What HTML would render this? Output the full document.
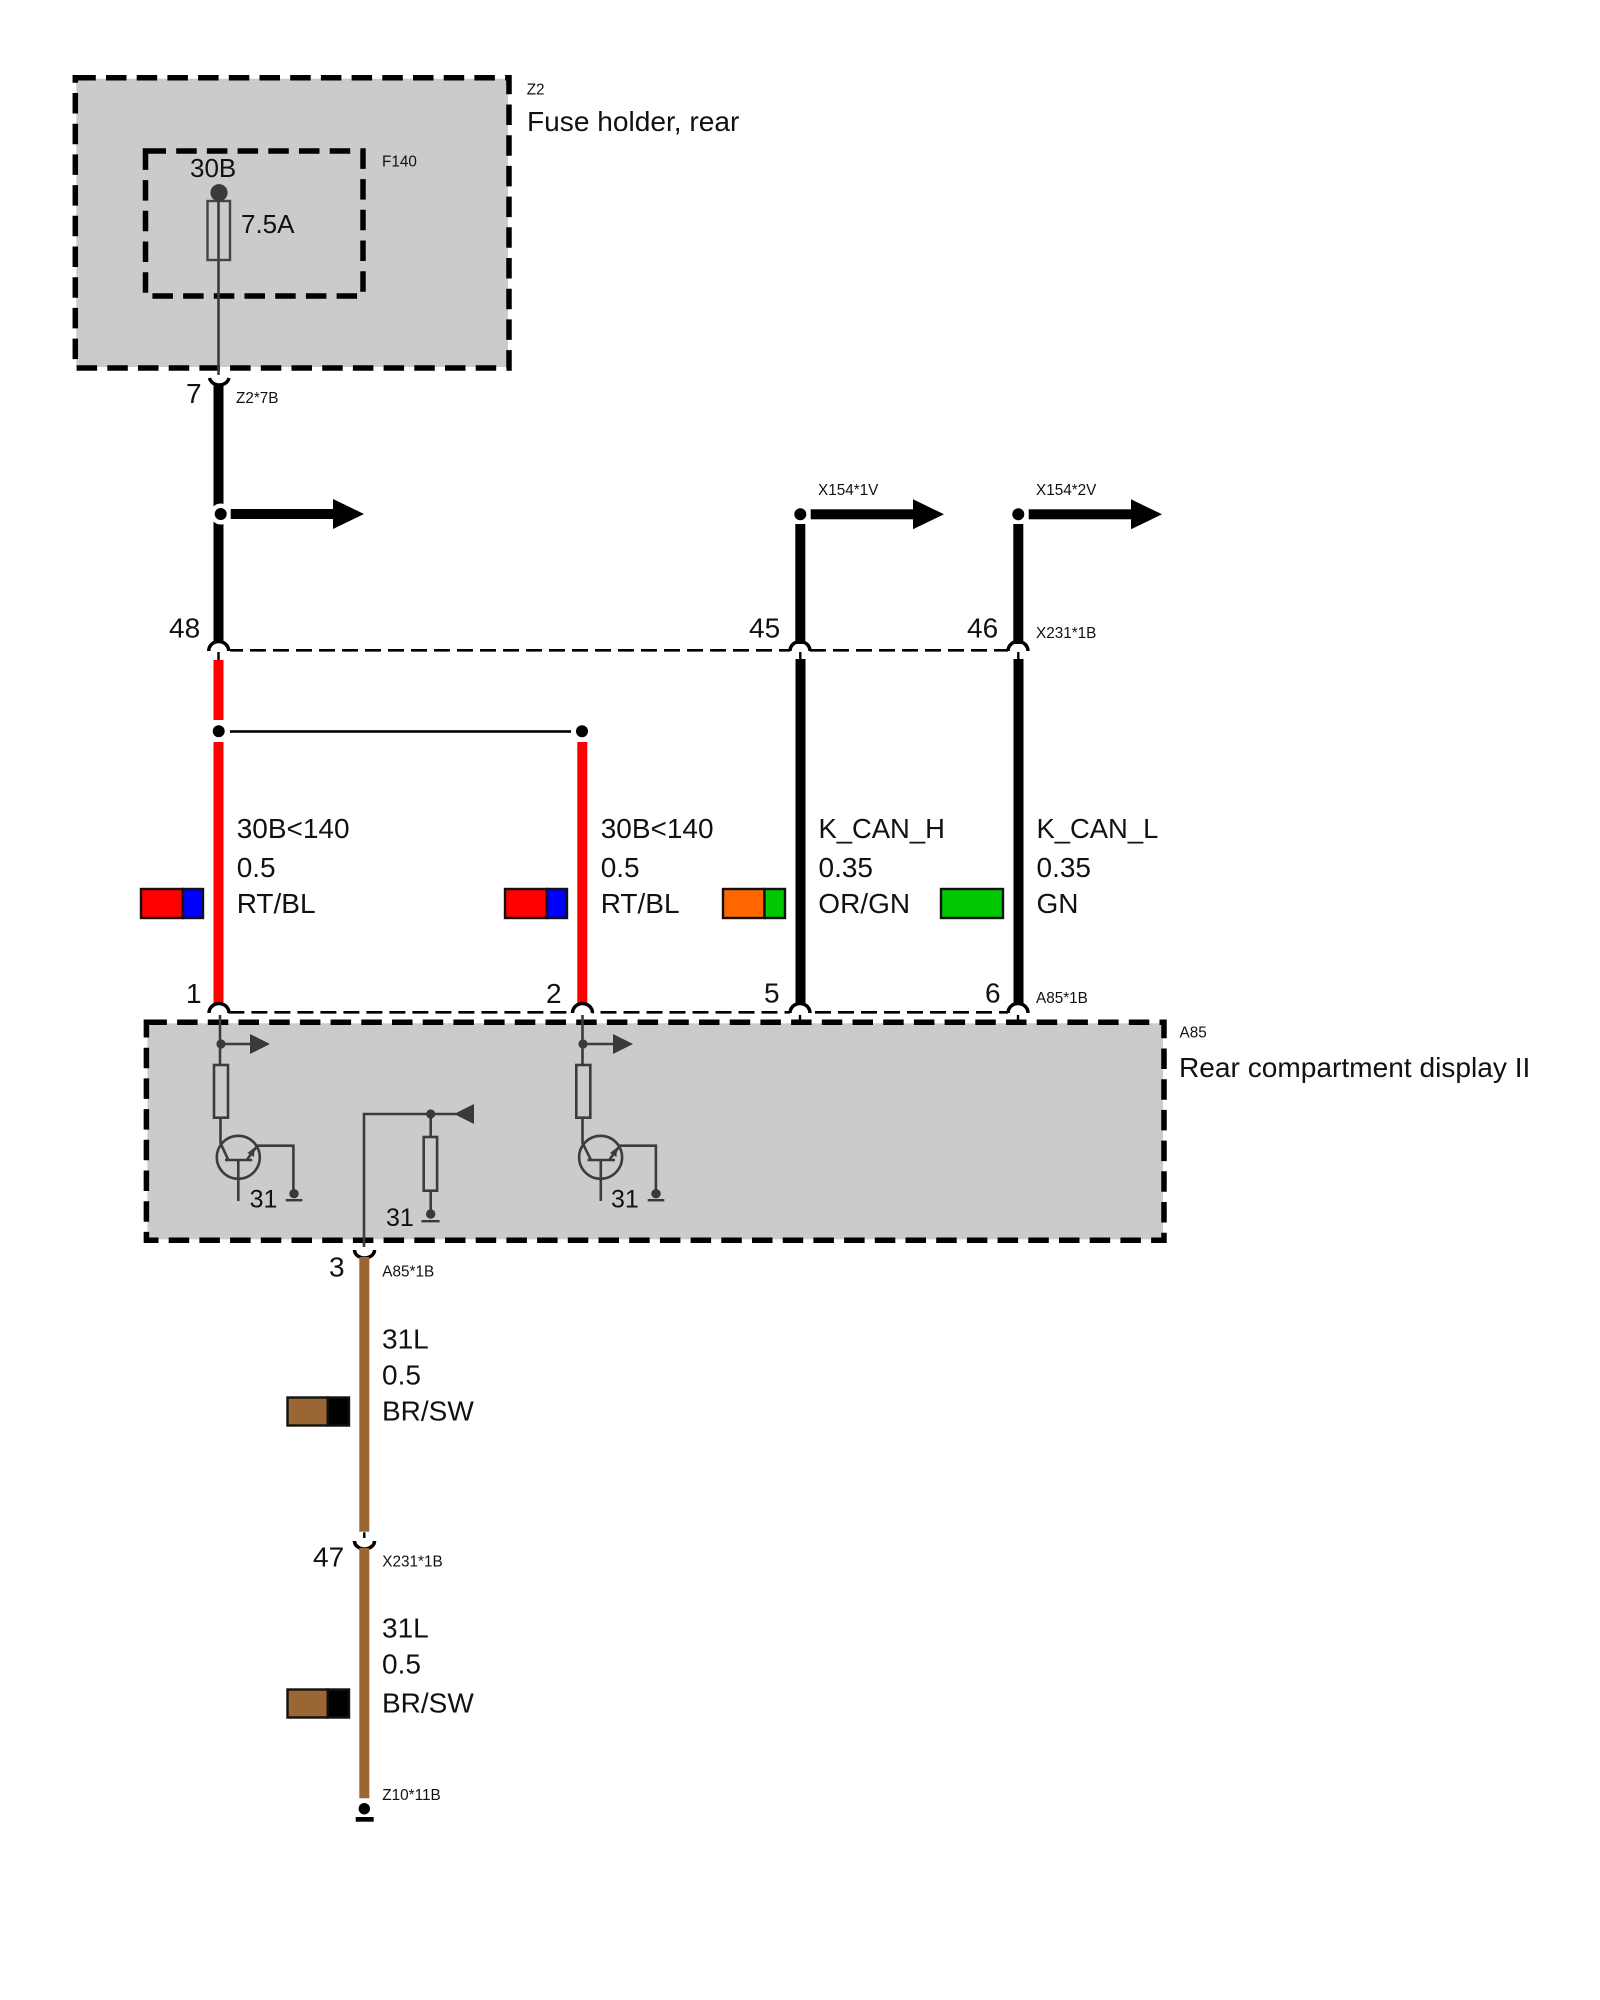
<!DOCTYPE html>
<html><head><meta charset="utf-8"><style>
html,body{margin:0;padding:0;background:#fff}
svg{display:block}
text{font-family:"Liberation Sans",sans-serif;fill:#111;font-size:28px}
.s{font-size:15.3px}
.n{font-size:28px}
.m{font-size:25px}
.h{font-size:26px}
.k{font-size:27.4px}
.l{font-size:28.1px}
.c{fill:none;stroke:#3c3c3c;stroke-width:2.6}
.d{fill:#3a3a3a}
.a{fill:none;stroke:#000;stroke-width:3.5}
.t{stroke:#000;stroke-width:2.4;fill:none}
.dash{stroke:#000;stroke-width:2.6;stroke-dasharray:16 7;fill:none}
.bf{fill:#cbcbcb}
.box{fill:none;stroke:#000;stroke-width:5.5;stroke-dasharray:20.5 10.2}
.sw{stroke:#111;stroke-width:2.4}
</style></head><body>
<svg width="1600" height="2000" viewBox="0 0 1600 2000" xmlns="http://www.w3.org/2000/svg">
<rect width="1600" height="2000" fill="#fff"/>

<!-- Z2 -->
<rect class="bf" x="76.3" y="78.7" width="431.7" height="288.3"/>
<rect class="box" x="75.3" y="77.7" width="433.7" height="290.3"/>
<rect x="145.5" y="151" width="217.5" height="145" fill="none" stroke="#000" stroke-width="5.5" stroke-dasharray="20.5 10.2"/>
<path class="c" d="M218.5 192V375"/>
<rect x="207.5" y="201" width="22.5" height="59" fill="none" stroke="#444" stroke-width="2.4"/>
<circle class="d" cx="219" cy="192.7" r="8.6"/>
<text class="h" x="190" y="177">30B</text>
<text class="h" x="241" y="233">7.5A</text>
<text class="s" x="382" y="166.7">F140</text>
<text class="s" x="526.7" y="94.3">Z2</text>
<text class="l" x="527" y="131">Fuse holder, rear</text>

<!-- connector 7 and upper black wire -->
<path class="a" d="M209.5 378A10 9 0 0 0 229 378"/>
<rect x="213.5" y="385" width="10" height="258" fill="#000"/>
<text x="186" y="403">7</text>
<text class="s" x="236" y="403">Z2*7B</text>
<circle cx="220.7" cy="514" r="10.5" fill="#fff"/>
<circle cx="220.7" cy="514" r="6" fill="#000"/>
<rect x="230.7" y="509" width="103" height="10" fill="#000"/>
<path d="M333 499L364 514L333 529Z" fill="#000"/>

<!-- wire 45 / 46 top -->
<circle cx="800.3" cy="514.3" r="6" fill="#000"/>
<rect x="795.3" y="524" width="10" height="120" fill="#000"/>
<rect x="810.7" y="509.3" width="103" height="10" fill="#000"/>
<path d="M913 499.3L944 514.3L913 529.3Z" fill="#000"/>
<circle cx="1018.3" cy="514.3" r="6" fill="#000"/>
<rect x="1013.3" y="524" width="10" height="120" fill="#000"/>
<rect x="1028.7" y="509.3" width="103" height="10" fill="#000"/>
<path d="M1131 499.3L1162 514.3L1131 529.3Z" fill="#000"/>
<text class="s" x="818" y="495">X154*1V</text>
<text class="s" x="1036" y="495">X154*2V</text>

<!-- upper dashed X231 -->
<path class="dash" d="M230 650.3H790" stroke-dashoffset="3"/>
<path class="dash" d="M810 650.3H1008"/>
<path class="a" d="M208.7 651A10 9.5 0 0 1 228.7 651"/>
<path class="a" d="M790 651A10 9.5 0 0 1 810 651"/>
<path class="a" d="M1008 651A10 9.5 0 0 1 1028 651"/>
<path class="t" d="M218.5 652V660M800.3 652V660M1018.3 652V660"/>
<text class="n" x="169" y="637.5">48</text>
<text class="n" x="749" y="637.5">45</text>
<text class="n" x="967" y="637.5">46</text>
<text class="s" x="1036" y="638">X231*1B</text>

<!-- red wires -->
<rect x="213.5" y="660" width="10" height="60" fill="#f00"/>
<rect x="213.5" y="742" width="10" height="261" fill="#f00"/>
<circle cx="218.7" cy="731.3" r="6" fill="#000"/>
<rect x="230" y="730.2" width="341" height="2.6" fill="#000"/>
<circle cx="582" cy="731.3" r="6" fill="#000"/>
<rect x="577.3" y="742" width="10" height="261" fill="#f00"/>

<!-- black lower wires -->
<rect x="795.5" y="659" width="10" height="344" fill="#000"/>
<rect x="1013.5" y="659" width="10" height="344" fill="#000"/>

<!-- wire labels -->
<text x="236.7" y="838">30B&lt;140</text>
<text x="236.7" y="877">0.5</text>
<text x="236.7" y="913">RT/BL</text>
<text x="600.7" y="838">30B&lt;140</text>
<text x="600.7" y="877">0.5</text>
<text x="600.7" y="913">RT/BL</text>
<text class="k" x="818.5" y="838">K_CAN_H</text>
<text x="818.5" y="877">0.35</text>
<text x="818.3" y="913">OR/GN</text>
<text class="k" x="1036.5" y="838">K_CAN_L</text>
<text x="1036.5" y="877">0.35</text>
<text x="1036.5" y="913">GN</text>

<!-- swatches -->
<rect x="141" y="889" width="42" height="29" fill="#f00" class="sw"/>
<rect x="183" y="889" width="20" height="29" fill="#00f" class="sw"/>
<rect x="505" y="889" width="42" height="29" fill="#f00" class="sw"/>
<rect x="547" y="889" width="20" height="29" fill="#00f" class="sw"/>
<rect x="723" y="889" width="41.5" height="29" fill="#f60" class="sw"/>
<rect x="764.5" y="889" width="20.5" height="29" fill="#00c800" class="sw"/>
<rect x="941" y="889" width="62" height="29" fill="#00c800" class="sw"/>

<!-- lower dashed A85 -->
<path class="dash" d="M228.4 1012.3H572"/>
<path class="dash" d="M592.5 1012.3H790" stroke-dashoffset="-8"/>
<path class="dash" d="M810 1012.3H1008" stroke-dashoffset="-5"/>
<path class="a" d="M209 1013A10 9.5 0 0 1 229 1013"/>
<path class="a" d="M572.5 1013A10 9.5 0 0 1 592.5 1013"/>
<path class="a" d="M790 1013A10 9.5 0 0 1 810 1013"/>
<path class="a" d="M1008 1013A10 9.5 0 0 1 1028 1013"/>
<text x="186" y="1003">1</text>
<text x="546" y="1003">2</text>
<text x="764" y="1002.5">5</text>
<text x="985" y="1002.5">6</text>
<text class="s" x="1036" y="1003">A85*1B</text>

<!-- A85 -->
<rect class="bf" x="147.4" y="1023.3" width="1015.6" height="216"/>
<rect class="box" x="146.4" y="1022.3" width="1017.6" height="218"/>
<path class="t" d="M800 1015V1022M1018 1015V1022"/>
<text class="s" x="1179.5" y="1037.7">A85</text>
<text class="l" x="1179" y="1077">Rear compartment display II</text>

<!-- left transistor stage -->
<g>
<path class="c" d="M220 1015V1065M220.5 1118V1143L228.3 1160M225 1160H252.3M238.3 1160V1201M246.7 1160L257.3 1145.7H293.4V1193M221 1044H252"/>
<rect x="214" y="1065" width="14" height="52.7" fill="none" stroke="#3c3c3c" stroke-width="2.6"/>
<circle cx="238.3" cy="1157.3" r="21.5" fill="none" stroke="#3c3c3c" stroke-width="2.6"/>
<path class="d" d="M254.5 1147.5L247.5 1153L254 1157Z"/>
<circle class="d" cx="221" cy="1044" r="4.6"/>
<path class="d" d="M250 1034L270 1044L250 1054Z"/>
<circle class="d" cx="294" cy="1193.7" r="4.7"/>
<rect class="d" x="285.7" y="1199" width="16.6" height="2.4"/>
<text class="m" x="249.6" y="1207.7">31</text>
</g>
<!-- right transistor stage -->
<g>
<path class="c" d="M582.5 1015V1065M582.5 1118V1143L591 1160M587.5 1160H615M600.8 1160V1201M609.2 1160L619.8 1145.7H655.9V1193M583 1044H614"/>
<rect x="576.3" y="1065" width="14" height="52.7" fill="none" stroke="#3c3c3c" stroke-width="2.6"/>
<circle cx="600.6" cy="1157.3" r="21.5" fill="none" stroke="#3c3c3c" stroke-width="2.6"/>
<path class="d" d="M617 1147.5L610 1153L616.5 1157Z"/>
<circle class="d" cx="583" cy="1044" r="4.6"/>
<path class="d" d="M613 1034L633 1044L613 1054Z"/>
<circle class="d" cx="656" cy="1193.7" r="4.7"/>
<rect class="d" x="647.7" y="1199" width="16.6" height="2.4"/>
<text class="m" x="611" y="1207.7">31</text>
</g>
<!-- centre stage -->
<path class="c" d="M364 1247V1114H456M430.7 1114V1137M430.7 1190.7V1214"/>
<rect x="423.7" y="1137" width="13.4" height="53.7" fill="none" stroke="#3c3c3c" stroke-width="2.6"/>
<circle class="d" cx="430.7" cy="1114" r="4.6"/>
<path class="d" d="M454 1114L474 1104V1124Z"/>
<circle class="d" cx="430.7" cy="1214" r="4.7"/>
<rect class="d" x="421.4" y="1220" width="18.2" height="2.4"/>
<text class="m" x="386" y="1226">31</text>

<!-- brown wire -->
<path class="a" d="M354.5 1250A10 8 0 0 0 374.5 1250"/>
<rect x="359.3" y="1257" width="10" height="274.7" fill="#9a6633"/>
<path class="t" d="M364.3 1532.3V1538"/>
<path class="a" d="M354.5 1541A10 8 0 0 0 374.5 1541"/>
<rect x="359.3" y="1548" width="10" height="250.3" fill="#9a6633"/>
<circle cx="364.3" cy="1808.7" r="5.7" fill="#000"/>
<rect x="355.7" y="1817" width="18" height="4.7" fill="#000"/>

<text class="n" x="329" y="1276.7">3</text>
<text class="s" x="382.3" y="1276.7">A85*1B</text>
<text x="382" y="1348.3">31L</text>
<text x="382" y="1384.3">0.5</text>
<text x="382" y="1420.7">BR/SW</text>
<text class="n" x="313" y="1566.7">47</text>
<text class="s" x="382.3" y="1566.7">X231*1B</text>
<text x="382" y="1637.3">31L</text>
<text x="382" y="1673.3">0.5</text>
<text x="382" y="1712.7">BR/SW</text>
<text class="s" x="382.3" y="1800">Z10*11B</text>

<rect x="287.5" y="1397.5" width="40.2" height="28" fill="#9a6633" class="sw"/>
<rect x="327.7" y="1397.5" width="21.3" height="28" fill="#000" class="sw"/>
<rect x="287.5" y="1689.5" width="40.2" height="28" fill="#9a6633" class="sw"/>
<rect x="327.7" y="1689.5" width="21.3" height="28" fill="#000" class="sw"/>
</svg>
</body></html>
